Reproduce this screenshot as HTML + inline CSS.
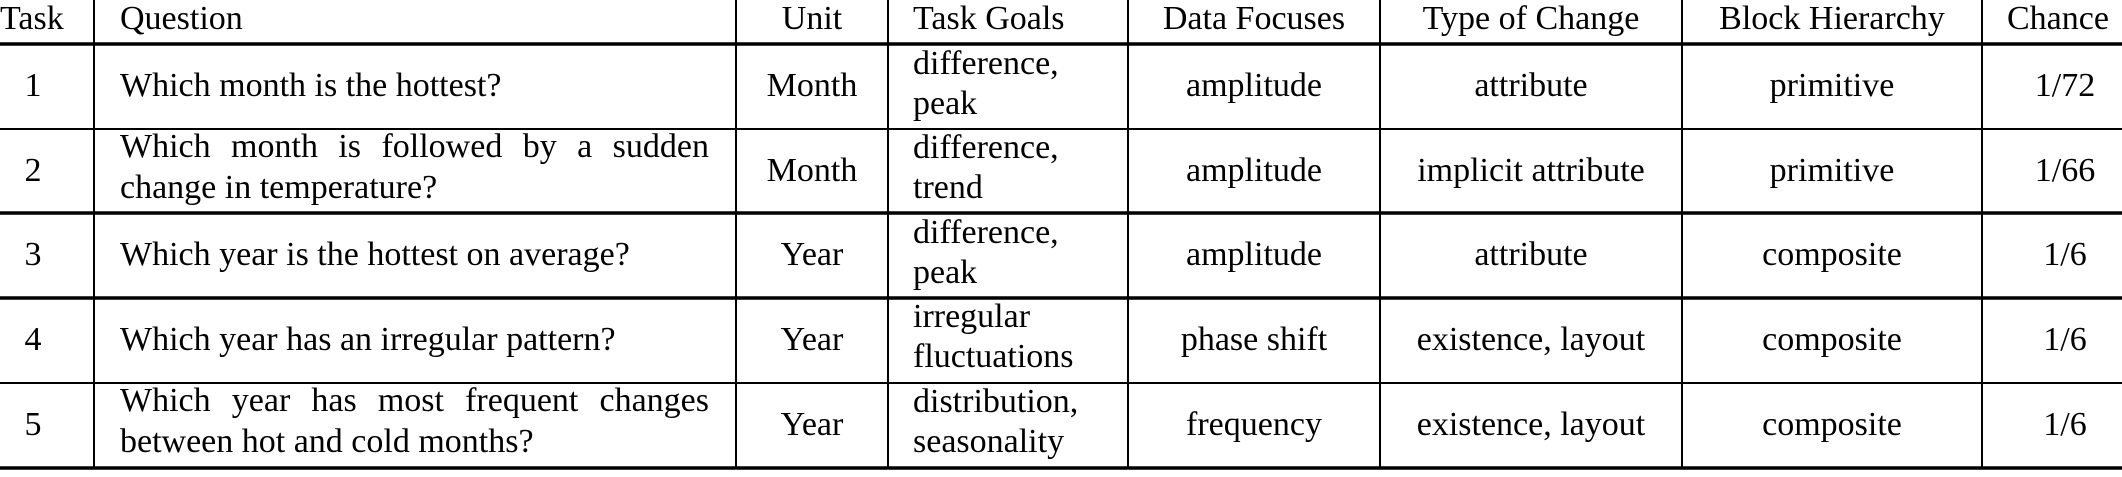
<!DOCTYPE html>
<html><head><meta charset="utf-8"><style>
html,body{margin:0;padding:0;background:#fff;}
svg{display:block;}
text{font-family:"Liberation Serif",serif;font-size:34px;fill:#000;}
.j{position:absolute;left:120px;width:589px;font-family:"Liberation Serif",serif;font-size:34px;line-height:40px;text-align:justify;text-align-last:justify;white-space:nowrap;}
.j span{display:block;text-align:justify;text-align-last:justify;white-space:normal;}
</style></head><body>
<div style="position:relative;width:2122px;height:477px;">
<svg width="2122" height="477" viewBox="0 0 2122 477" xmlns="http://www.w3.org/2000/svg" style="position:absolute;left:0;top:0;">
<g stroke="#000">
<line x1="0" y1="44" x2="2122" y2="44" stroke-width="3.5"/>
<line x1="0" y1="129" x2="2122" y2="129" stroke-width="2"/>
<line x1="0" y1="213" x2="2122" y2="213" stroke-width="3.5"/>
<line x1="0" y1="298" x2="2122" y2="298" stroke-width="3.5"/>
<line x1="0" y1="383" x2="2122" y2="383" stroke-width="2"/>
<line x1="0" y1="468" x2="2122" y2="468" stroke-width="3.5"/>
<g stroke-width="2">
<line x1="94" y1="0" x2="94" y2="468"/>
<line x1="736" y1="0" x2="736" y2="468"/>
<line x1="888" y1="0" x2="888" y2="468"/>
<line x1="1128" y1="0" x2="1128" y2="468"/>
<line x1="1380" y1="0" x2="1380" y2="468"/>
<line x1="1682" y1="0" x2="1682" y2="468"/>
<line x1="1982" y1="0" x2="1982" y2="468"/>
</g>
</g>
<text x="0" y="29">Task</text>
<text x="120" y="29">Question</text>
<text x="812" y="29" text-anchor="middle">Unit</text>
<text x="913" y="29">Task Goals</text>
<text x="1254" y="29" text-anchor="middle">Data Focuses</text>
<text x="1531" y="29" text-anchor="middle">Type of Change</text>
<text x="1832" y="29" text-anchor="middle">Block Hierarchy</text>
<text x="2007" y="29">Chance</text>
<g text-anchor="middle">
<text x="33" y="96">1</text>
<text x="33" y="181">2</text>
<text x="33" y="265">3</text>
<text x="33" y="350">4</text>
<text x="33" y="435">5</text>
<text x="812" y="96">Month</text>
<text x="812" y="181">Month</text>
<text x="812" y="265">Year</text>
<text x="812" y="350">Year</text>
<text x="812" y="435">Year</text>
<text x="1254" y="96">amplitude</text>
<text x="1254" y="181">amplitude</text>
<text x="1254" y="265">amplitude</text>
<text x="1254" y="350">phase shift</text>
<text x="1254" y="435">frequency</text>
<text x="1531" y="96">attribute</text>
<text x="1531" y="181">implicit attribute</text>
<text x="1531" y="265">attribute</text>
<text x="1531" y="350">existence, layout</text>
<text x="1531" y="435">existence, layout</text>
<text x="1832" y="96">primitive</text>
<text x="1832" y="181">primitive</text>
<text x="1832" y="265">composite</text>
<text x="1832" y="350">composite</text>
<text x="1832" y="435">composite</text>
<text x="2065" y="96">1/72</text>
<text x="2065" y="181">1/66</text>
<text x="2065" y="265">1/6</text>
<text x="2065" y="350">1/6</text>
<text x="2065" y="435">1/6</text>
</g>
<text x="120" y="96">Which month is the hottest?</text>
<text x="120" y="198">change in temperature?</text>
<text x="120" y="265">Which year is the hottest on average?</text>
<text x="120" y="350">Which year has an irregular pattern?</text>
<text x="120" y="452">between hot and cold months?</text>
<text x="913" y="74">difference,</text>
<text x="913" y="114">peak</text>
<text x="913" y="158">difference,</text>
<text x="913" y="198">trend</text>
<text x="913" y="243">difference,</text>
<text x="913" y="283">peak</text>
<text x="913" y="327">irregular</text>
<text x="913" y="367">fluctuations</text>
<text x="913" y="412">distribution,</text>
<text x="913" y="452">seasonality</text>
</svg>
<div class="j" style="top:127px;"><span>Which month is followed by a sudden</span></div>
<div class="j" style="top:381px;"><span>Which year has most frequent changes</span></div>
</div>
</body></html>
